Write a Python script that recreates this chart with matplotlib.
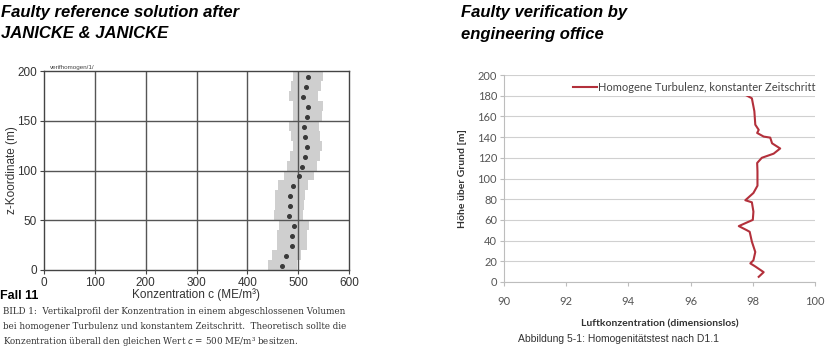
import numpy as np
import matplotlib.pyplot as plt

# left panel: reference profile (dots every 10 m, grey scatter band)
z_ref = [4, 14, 24, 34, 44, 54, 64, 74, 84, 94, 104, 114, 124, 134, 144, 154, 164, 174, 184, 194]
c_ref = [469, 477, 488, 488, 492, 481, 483, 484, 490, 502, 508, 513, 518, 514, 511, 518, 519, 510, 515, 519]
band_half = 29

# right panel: engineering office profile
h_ing = [5, 9.5, 15, 18, 21, 29, 39, 48.5, 50, 54, 57.5, 60, 68, 77, 79, 86, 93, 107, 115,
         120, 124, 129, 134, 139.5, 140.5, 144, 147, 152, 165, 177.5, 181.5]
c_ing = [98.19, 98.35, 98.08, 97.92, 98.02, 98.08, 97.97, 97.9, 97.81, 97.55, 97.81, 98.0,
         98.02, 97.97, 97.76, 98.02, 98.15, 98.15, 98.14, 98.29, 98.67, 98.88, 98.62, 98.56,
         98.35, 98.14, 98.19, 98.08, 98.05, 97.97, 97.72]

W, H = 829, 358
fig = plt.figure(figsize=(W / 100, H / 100), dpi=100)
fig.patch.set_facecolor('white')

def box(l, t, r, b):
    return [l / W, 1 - b / H, (r - l) / W, (b - t) / H]

# ---------------- left ----------------
sans = 'Liberation Sans'
ax1 = fig.add_axes(box(44, 71, 349, 270))
edges = np.arange(0, 201, 10)
lo = [c - band_half for c in c_ref] + [c_ref[-1] - band_half]
hi = [c + band_half for c in c_ref] + [c_ref[-1] + band_half]
ax1.fill_betweenx(edges, lo, hi, step='post', color='#cfcfcf', lw=0, zorder=1)
ax1.plot(c_ref, z_ref, 'o', ms=2.6, color='#3a3a3a', zorder=3)
ax1.set_xlim(0, 600)
ax1.set_ylim(0, 200)
ax1.set_xticks(range(0, 601, 100))
ax1.set_yticks(range(0, 201, 50))
for x in range(100, 600, 100):
    ax1.axvline(x, color='#555555', lw=1.0, zorder=2)
for y in (50, 100, 150):
    ax1.axhline(y, color='#555555', lw=1.0, zorder=2)
for s in ax1.spines.values():
    s.set_color('#444444')
    s.set_linewidth(1.0)
ax1.tick_params(length=3, width=0.8, color='#444444', labelsize=8.5, labelcolor='#333333', pad=2)
for lab in ax1.get_xticklabels() + ax1.get_yticklabels():
    lab.set_family(sans)
ax1.set_ylabel('z-Koordinate (m)', family=sans, fontsize=8.5, color='#333333')
ax1.yaxis.set_label_coords(-0.085, 0.5)
ax1.set_xlabel('Konzentration c (ME/m³)', family=sans, fontsize=8.5, color='#333333')
ax1.xaxis.set_label_coords(0.5, -0.09)
ax1.text(0.02, 1.005, 'verifhomogen/1/', transform=ax1.transAxes, fontsize=4.5,
         family=sans, color='#444444', va='bottom')

fig.text(1 / W, 1 - 13 / H, 'Faulty reference solution after', family=sans, weight='bold',
         style='italic', fontsize=12, va='center', ha='left')
fig.text(1 / W, 1 - 33 / H, 'JANICKE & JANICKE', family=sans, weight='bold',
         style='italic', fontsize=12, va='center', ha='left')
fig.text(0 / W, 1 - 296 / H, 'Fall 11', family=sans, weight='bold', fontsize=9, va='center')

cap = ['BILD 1:  Vertikalprofil der Konzentration in einem abgeschlossenen Volumen',
       'bei homogener Turbulenz und konstantem Zeitschritt.  Theoretisch sollte die',
       'Konzentration überall den gleichen Wert $c$ = 500 ME/m³ besitzen.']
for i, line in enumerate(cap):
    fig.text(3 / W, 1 - (311 + 15.5 * i) / H, line, family='DejaVu Serif', fontsize=6.3,
             color='#333333', va='center', ha='left')

# ---------------- right ----------------
cal = 'Lato'
ax2 = fig.add_axes(box(504, 75, 815, 282))
ax2.plot(c_ing, h_ing, color='#b3303b', lw=1.5, zorder=3,
         label='Homogene Turbulenz, konstanter Zeitschritt')
ax2.set_xlim(90, 100)
ax2.set_ylim(0, 200)
ax2.set_xticks(range(90, 101, 2))
ax2.set_yticks(range(0, 201, 20))
ax2.grid(axis='y', color='#d0d0d0', lw=0.8)
ax2.grid(axis='x', visible=False)
for s in ('top', 'right'):
    ax2.spines[s].set_visible(False)
for s in ('left', 'bottom'):
    ax2.spines[s].set_color('#bdbdbd')
    ax2.spines[s].set_linewidth(0.8)
ax2.tick_params(axis='y', length=3, width=0.8, color='#bdbdbd', labelsize=8, labelcolor='#555555', pad=2)
ax2.tick_params(axis='x', length=3, width=0.8, color='#bdbdbd', labelsize=8, labelcolor='#555555', pad=7)
for lab in ax2.get_xticklabels() + ax2.get_yticklabels():
    lab.set_family(cal)
ax2.set_ylabel('Höhe über Grund [m]', family=cal, weight='bold', fontsize=7.5, color='#333333')
ax2.yaxis.set_label_coords(-0.12, 0.5)
ax2.set_xlabel('Luftkonzentration (dimensionslos)', family=cal, weight='bold', fontsize=7.5,
               color='#333333')
ax2.xaxis.set_label_coords(0.5, -0.18)
leg = ax2.legend(loc='upper left', bbox_to_anchor=(60 / 311, 1.01), frameon=True,
                 prop={'family': cal, 'size': 8}, handlelength=2.2, handletextpad=0.1,
                 borderpad=0.3, fancybox=False)
leg.get_frame().set_edgecolor('none')
leg.get_frame().set_facecolor('white')
leg.get_frame().set_alpha(1)
for t in leg.get_texts():
    t.set_color('#444444')

fig.text(461 / W, 1 - 13 / H, 'Faulty verification by', family=sans, weight='bold',
         style='italic', fontsize=12, va='center', ha='left')
fig.text(461 / W, 1 - 34 / H, 'engineering office', family=sans, weight='bold',
         style='italic', fontsize=12, va='center', ha='left')
fig.text(619 / W, 1 - 339 / H, 'Abbildung 5-1: Homogenitätstest nach D1.1', family=sans,
         fontsize=7.5, color='#333333', va='center', ha='center')

fig.savefig('out.png', dpi=100)
